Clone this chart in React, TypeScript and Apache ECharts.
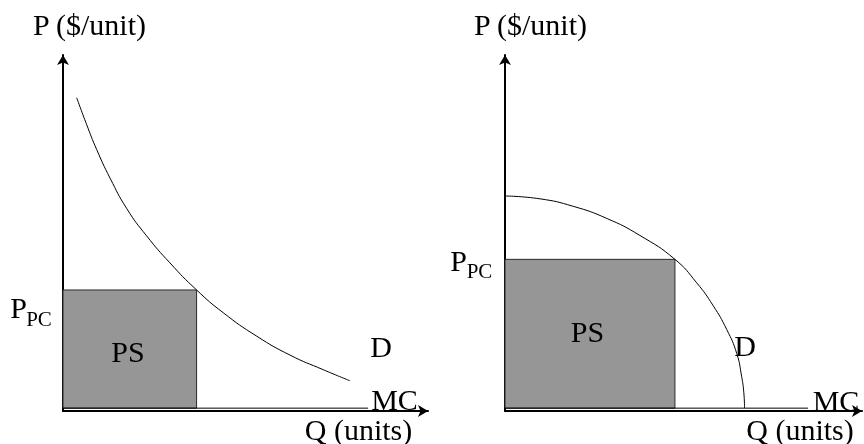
import React, { useEffect, useRef } from "react";
import * as echarts from "echarts";

// Left panel: convex demand curve
const demandLeftQ = [0.375, 0.65, 0.92, 1.29, 1.75, 2.29, 2.93, 3.66, 4.39, 5.31, 6.22, 7.13, 7.86];
const demandLeftP = [8.8, 8.04, 7.35, 6.54, 5.68, 4.92, 4.16, 3.4, 2.76, 2.1, 1.57, 1.16, 0.85];
// Right panel: concave (quarter-ellipse) demand curve
const demandRightQ = [0, 0.98, 1.91, 2.85, 3.78, 4.76, 5.37, 5.83, 6.21, 6.49, 6.63, 6.69, 6.71];
const demandRightP = [6.04, 5.96, 5.75, 5.41, 4.93, 4.26, 3.6, 2.96, 2.29, 1.62, 0.96, 0.51, 0.08];

const mcLevel = 0.08;
const mcEnd = [8.36, 8.49];
const pPC = [3.4, 4.26];
const qPC = [3.66, 4.76];

const FONT = "'Liberation Serif', 'Times New Roman', serif";

const zip = (a: number[], b: number[]) => a.map((v, i) => [v, b[i]]);

export default function App() {
  const ref = useRef<HTMLDivElement>(null);
  useEffect(() => {
    if (!ref.current) return;
    const chart = echarts.init(ref.current, undefined, { renderer: "svg" });
    const axisCommon = {
      type: "value" as const,
      min: 0,
      max: 10,
      axisTick: { show: false },
      axisLabel: { show: false },
      splitLine: { show: false },
      axisLine: {
        show: true,
        symbol: ["none", "arrow"],
        symbolSize: [9, 10],
        lineStyle: { color: "#000", width: 2 },
      },
    };
    const txt = (text: string, x: number, y: number, size = 30) => ({
      type: "text",
      x,
      y,
      z: 100,
      style: {
        text,
        fill: "#000",
        font: `${size}px ${FONT}`,
        align: "center",
        verticalAlign: "middle",
      },
    });
    const panelSeries = (i: number, q: number[], p: number[]) => [
      {
        type: "line",
        xAxisIndex: i,
        yAxisIndex: i,
        data: [
          [0, mcLevel],
          [mcEnd[i], mcLevel],
        ],
        showSymbol: false,
        symbol: "none",
        lineStyle: { color: "#000", width: 1 },
        markArea: {
          silent: true,
          itemStyle: { color: "#969696", borderColor: "#2a2a2a", borderWidth: 1 },
          data: [[{ coord: [0, mcLevel] }, { coord: [qPC[i], pPC[i]] }]],
        },
        z: 1,
      },
      {
        type: "line",
        xAxisIndex: i,
        yAxisIndex: i,
        data: zip(q, p),
        smooth: 0.5,
        showSymbol: false,
        symbol: "none",
        lineStyle: { color: "#000", width: 1 },
        z: 2,
      },
    ];
    chart.setOption({
      animation: false,
      grid: [
        { left: 63, top: 55, width: 365, height: 356 },
        { left: 505, top: 55, width: 357, height: 356 },
      ],
      xAxis: [
        { ...axisCommon, gridIndex: 0 },
        { ...axisCommon, gridIndex: 1 },
      ],
      yAxis: [
        { ...axisCommon, gridIndex: 0 },
        { ...axisCommon, gridIndex: 1 },
      ],
      series: [
        ...panelSeries(0, demandLeftQ, demandLeftP),
        ...panelSeries(1, demandRightQ, demandRightP),
      ],
      graphic: [
        txt("P ($/unit)", 89.5, 24),
        txt("P ($/unit)", 530.5, 24),
        txt("Q (units)", 358.5, 429),
        txt("Q (units)", 800, 429),
        txt("P", 18.5, 307),
        txt("PC", 39, 318.5, 21),
        txt("P", 458.5, 260),
        txt("PC", 479.5, 271, 21),
        txt("PS", 128, 351),
        txt("PS", 587.5, 331),
        txt("D", 381, 346),
        txt("D", 745, 345),
        txt("MC", 394.5, 399),
        txt("MC", 836, 400),
      ],
    });
    return () => chart.dispose();
  }, []);
  return (
    <div
      ref={ref}
      style={{ position: "fixed", left: 0, top: 0, width: 864, height: 444 }}
    />
  );
}
